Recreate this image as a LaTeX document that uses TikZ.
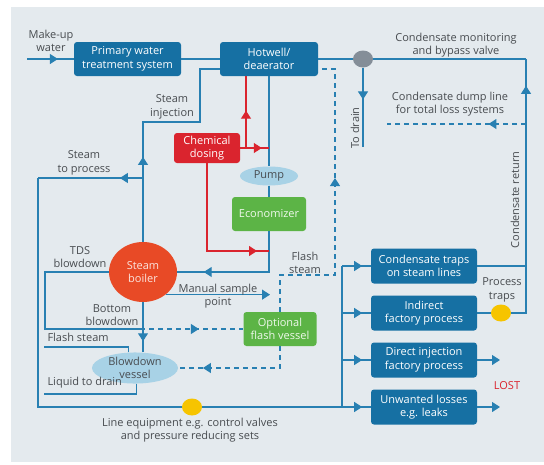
\documentclass[tikz,border=0pt]{standalone}
\usepackage{fontspec}
\setmainfont{Open Sans}
\usetikzlibrary{arrows.meta,shapes.geometric,decorations.markings,calc}

\definecolor{bgc}{RGB}{228,234,238}
\definecolor{boxblue}{RGB}{22,112,163}
\definecolor{lineblue}{RGB}{40,128,178}
\definecolor{dosered}{RGB}{218,36,46}
\definecolor{boilerred}{RGB}{232,74,38}
\definecolor{ecogreen}{RGB}{92,180,70}
\definecolor{paleblue}{RGB}{168,210,230}
\definecolor{trapyellow}{RGB}{246,196,0}
\definecolor{valvegray}{RGB}{132,142,152}
\definecolor{txtgray}{RGB}{72,76,80}

\tikzset{
    unit/.style={rectangle, rounded corners=3pt, align=center, text=white,
        inner sep=1pt, font=\fontsize{11}{13.5}\selectfont},
    bluebox/.style={unit, fill=boxblue},
    redbox/.style={unit, fill=dosered},
    greenbox/.style={unit, fill=ecogreen, text=white!90!ecogreen},
    vessel/.style={ellipse, fill=paleblue, inner sep=0pt, align=center,
        text=txtgray, font=\fontsize{11}{13.5}\selectfont},
    dot/.style={ellipse, inner sep=0pt, minimum width=20pt, minimum height=17pt},
    lbl/.style={align=center, text=txtgray, font=\fontsize{11}{13.5}\selectfont},
    flow/.style={draw=lineblue, line width=1.1pt},
    dflow/.style={flow, dash pattern=on 5pt off 4pt},
    rflow/.style={draw=dosered, line width=1.1pt},
    arr/.style={postaction={decorate}, decoration={markings,
        mark=at position #1 with {\arrow{Triangle[length=8pt,width=10pt]}}}},
    tip/.style={-{Triangle[length=8pt,width=10pt]}},
}

\begin{document}
\begin{tikzpicture}[x=1pt, y=-1pt]
        \useasboundingbox (0,0) rectangle (544,464);
        \fill[bgc] (11,7) rectangle (544,462);

        % units
        \node[bluebox, minimum width=107pt, minimum height=34pt] (pwts) at (127.5,59) {Primary water\\treatment system};
        \node[bluebox, minimum width=98pt, minimum height=34pt] (hotwell) at (269,59) {Hotwell/\\deaerator};
        \node[redbox, minimum width=66pt, minimum height=30pt] (chem) at (207,148) {Chemical\\dosing};
        \node[vessel, minimum width=58pt, minimum height=19pt] (pump) at (269,176) {Pump};
        \node[greenbox, minimum width=74pt, minimum height=34pt] (econ) at (269,214) {Economizer};
        \node[ellipse, fill=boilerred, minimum width=68pt, minimum height=60pt, inner sep=0pt,
            align=center, text=white!85!boilerred, font=\fontsize{11}{13.5}\selectfont] (boiler) at (143,272) {Steam\\boiler};
        \node[greenbox, minimum width=73pt, minimum height=34pt] (flash) at (280,329) {Optional\\flash vessel};
        \node[vessel, minimum width=86pt, minimum height=28pt] (bdv) at (135,368) {Blowdown\\vessel};
        \node[dot, fill=valvegray] (bypass) at (363,59) {};
        \node[dot, fill=trapyellow] (ptrap) at (501,313) {};
        \node[dot, fill=trapyellow] (leq) at (192,407) {};

        \node[bluebox, minimum width=106pt, minimum height=35pt] (ctraps) at (424,266) {Condensate traps\\on steam lines};
        \node[bluebox, minimum width=106pt, minimum height=35pt] (indirect) at (424,313) {Indirect\\factory process};
        \node[bluebox, minimum width=106pt, minimum height=35pt] (direct) at (424,360) {Direct injection\\factory process};
        \node[bluebox, minimum width=106pt, minimum height=35pt] (unwanted) at (424,407) {Unwanted losses\\e.g. leaks};

        % free ends and bends
        \coordinate (mkin) at (27,59);
        \coordinate (crtop) at (526,59);
        \coordinate (drain) at (363,147);
        \coordinate (dumpR) at (526,124);
        \coordinate (dumpL) at (387,124);
        \coordinate (sinj) at (200,122);
        \coordinate (sproc) at (143,178);
        \coordinate (bl) at (38,407);
        \coordinate (tds) at (45,329);
        \coordinate (tdsd) at (140,329);
        \coordinate (msend) at (270,295);
        \coordinate (fsbend) at (335,275);
        \coordinate (fsend) at (44,347);
        \coordinate (ldend) at (44,394);
        \coordinate (rj) at (246,148);
        \coordinate (rj2) at (269,251);
        \coordinate (busT) at (342,266);
        \coordinate (busB) at (342,407);
        \coordinate (dirend) at (500,360);
        \coordinate (unwend) at (500,407);

        % water and condensate
        \draw[flow, arr=0.66] (mkin) -- (pwts);
        \draw[flow] (pwts) -- (hotwell);
        \draw[flow] (hotwell.east) -- (bypass.west);
        \draw[flow] (bypass.east) -- (crtop);
        \draw[flow, arr=0.4] (bypass.south) -- (drain);
        \draw[dflow, arr=0.27] (dumpR) -- (dumpL);
        \draw[flow, arr=0.9] (ptrap.east) -| (crtop);
        \draw[flow] (indirect.east) -- (ptrap.west);
        \draw[flow] (ctraps.east) -- (ctraps.east -| crtop);

        % feed to boiler
        \draw[flow] (hotwell.south) -- (pump.north);
        \draw[flow] (pump.south) -- (econ.north);
        \draw[flow, arr=0.8] (econ.south) |- (boiler.east);

        % chemical dosing
        \draw[rflow, arr=0.75] (chem.east) -- (chem.east -| hotwell);
        \draw[rflow, arr=0.52] (rj) -- (rj |- hotwell.south);
        \draw[rflow, arr=0.92] (chem.south) |- (rj2);

        % steam
        \draw[flow, arr=0.34] (boiler.north) |- (sinj) |- ($(hotwell.west)+(0,10)$);
        \draw[flow, arr=0.22] (sproc) -- (sproc -| bl);
        \draw[flow] (sproc -| bl) -- (bl) -- (leq.west);
        \draw[flow] (leq.east) -- (busB) -- (busT);
        \foreach \b in {ctraps, indirect, direct, unwanted}
            \draw[flow, arr=0.7] (\b.west -| busT) -- (\b.west);
        \draw[flow, tip] (direct.east) -- (dirend);
        \draw[flow, tip] (unwanted.east) -- (unwend);

        % blowdown
        \draw[flow] (boiler.west) -| (tds) -- (tdsd);
        \draw[dflow, arr=0.57] (tdsd) -- (flash.west);
        \draw[flow, arr=0.78] (boiler.south) -- (boiler.south |- bdv.north);
        \draw[flow, tip] (boiler.-45) -- (boiler.-45 -| msend);
        \draw[dflow, arr=0.6] (flash.north) |- (fsbend) |- ($(hotwell.east)+(0,10)$);
        \draw[dflow, arr=0.8] (flash.south) |- (bdv.east);
        \draw[flow] (bdv.113) |- (fsend);
        \draw[flow] (bdv.-85) |- (ldend);

        % labels
        \node[lbl] (lmk) at (51,41) {Make-up\\water};
        \node[lbl] (linj) at (172,107) {Steam\\injection};
        \node[lbl] (lsp) at (84,163) {Steam\\to process};
        \node[lbl] (ltds) at (80,257) {TDS\\blowdown};
        \node[lbl] (lbb) at (112,315) {Bottom\\blowdown};
        \node[lbl] (lms) at (218,296) {Manual sample\\point};
        \node[lbl] (lfs) at (305,263) {Flash\\steam};
        \node[lbl, anchor=south west] (lfs2) at (44,345) {Flash steam};
        \node[lbl, anchor=south west] (lld) at (44,392) {Liquid to drain};
        \node[lbl] (lcm) at (456,45) {Condensate monitoring\\and bypass valve};
        \node[lbl] (ldump) at (450,104) {Condensate dump line\\for total loss systems};
        \node[lbl, rotate=90] (ldrain) at (355,128) {To drain};
        \node[lbl, rotate=90] (lret) at (515,200) {Condensate return};
        \node[lbl] (lpt) at (502,290) {Process\\traps};
        \node[lbl, text=dosered] (llost) at (507,386) {LOST};
        \node[lbl] (lleq) at (190,430) {Line equipment e.g. control valves\\and pressure reducing sets};
\end{tikzpicture}
\end{document}
